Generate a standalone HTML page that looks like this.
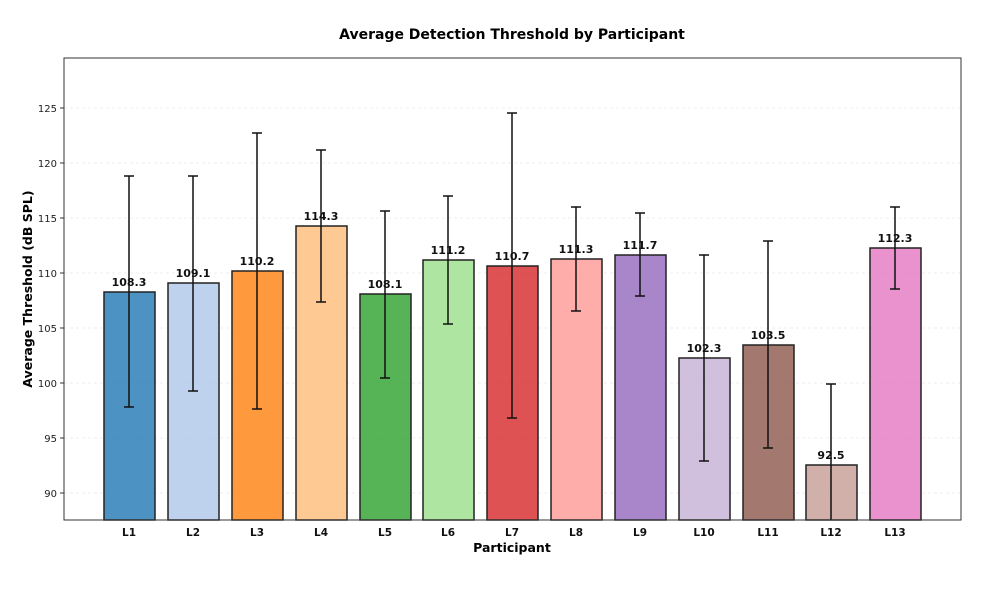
<!DOCTYPE html>
<html><head><meta charset="utf-8"><style>body{margin:0;background:#fff}svg{display:block}text{font-family:"DejaVu Sans","Liberation Sans",sans-serif}</style></head>
<body>
<svg width="1000" height="593" viewBox="0 0 1000 593" xmlns="http://www.w3.org/2000/svg">
<rect width="1000" height="593" fill="#fff"/>
<text x="512" y="39" text-anchor="middle" font-size="14" font-weight="bold">Average Detection Threshold by Participant</text>
<g stroke="#ddd" stroke-dasharray="3,3" stroke-width="0.6">
<line x1="64" x2="961" y1="493" y2="493"/><line x1="64" x2="961" y1="438" y2="438"/><line x1="64" x2="961" y1="383" y2="383"/><line x1="64" x2="961" y1="328" y2="328"/><line x1="64" x2="961" y1="273" y2="273"/><line x1="64" x2="961" y1="218" y2="218"/><line x1="64" x2="961" y1="163" y2="163"/><line x1="64" x2="961" y1="108" y2="108"/>
</g>
<g font-size="10" text-anchor="end" fill="#222">
<text x="57" y="497">90</text><text x="57" y="442">95</text><text x="57" y="387">100</text><text x="57" y="332">105</text><text x="57" y="277">110</text><text x="57" y="222">115</text><text x="57" y="167">120</text><text x="57" y="112">125</text>
</g>
<g stroke="#333" stroke-width="1"><line x1="60" x2="64" y1="493" y2="493"/><line x1="60" x2="64" y1="438" y2="438"/><line x1="60" x2="64" y1="383" y2="383"/><line x1="60" x2="64" y1="328" y2="328"/><line x1="60" x2="64" y1="273" y2="273"/><line x1="60" x2="64" y1="218" y2="218"/><line x1="60" x2="64" y1="163" y2="163"/><line x1="60" x2="64" y1="108" y2="108"/></g>
<g stroke="#222" stroke-width="1.5" fill-opacity="0.8">
<rect x="104" y="292" width="51" height="228" fill="#1f77b4"/>
<rect x="168" y="283" width="51" height="237" fill="#aec7e8"/>
<rect x="232" y="271" width="51" height="249" fill="#ff7f0e"/>
<rect x="296" y="226" width="51" height="294" fill="#ffbb78"/>
<rect x="360" y="294" width="51" height="226" fill="#2ca02c"/>
<rect x="423" y="260" width="51" height="260" fill="#98df8a"/>
<rect x="487" y="266" width="51" height="254" fill="#d62728"/>
<rect x="551" y="259" width="51" height="261" fill="#ff9896"/>
<rect x="615" y="255" width="51" height="265" fill="#9467bd"/>
<rect x="679" y="358" width="51" height="162" fill="#c5b0d5"/>
<rect x="743" y="345" width="51" height="175" fill="#8c564b"/>
<rect x="806" y="465" width="51" height="55" fill="#c49c94"/>
<rect x="870" y="248" width="51" height="272" fill="#e377c2"/>
</g>
<g stroke="#111" stroke-width="1.5">
<path d="M129 176V407M124 176H134M124 407H134"/>
<path d="M193 176V391M188 176H198M188 391H198"/>
<path d="M257 133V409M252 133H262M252 409H262"/>
<path d="M321 150V302M316 150H326M316 302H326"/>
<path d="M385 211V378M380 211H390M380 378H390"/>
<path d="M448 196V324M443 196H453M443 324H453"/>
<path d="M512 113V418M507 113H517M507 418H517"/>
<path d="M576 207V311M571 207H581M571 311H581"/>
<path d="M640 213V296M635 213H645M635 296H645"/>
<path d="M704 255V461M699 255H709M699 461H709"/>
<path d="M768 241V448M763 241H773M763 448H773"/>
<path d="M831 384V520M826 384H836"/>
<path d="M895 207V289M890 207H900M890 289H900"/>
</g>
<g font-size="11" font-weight="bold" text-anchor="middle" fill="#111">
<text x="129" y="286">108.3</text><text x="193" y="277">109.1</text><text x="257" y="265">110.2</text><text x="321" y="220">114.3</text><text x="385" y="288">108.1</text><text x="448" y="254">111.2</text><text x="512" y="260">110.7</text><text x="576" y="253">111.3</text><text x="640" y="249">111.7</text><text x="704" y="352">102.3</text><text x="768" y="339">103.5</text><text x="831" y="459">92.5</text><text x="895" y="242">112.3</text>
</g>
<rect x="64" y="58" width="897" height="462" fill="none" stroke="#333" stroke-width="1"/>
<g font-size="10.5" font-weight="bold" text-anchor="middle" fill="#111">
<text x="129" y="536">L1</text><text x="193" y="536">L2</text><text x="257" y="536">L3</text><text x="321" y="536">L4</text><text x="385" y="536">L5</text><text x="448" y="536">L6</text><text x="512" y="536">L7</text><text x="576" y="536">L8</text><text x="640" y="536">L9</text><text x="704" y="536">L10</text><text x="768" y="536">L11</text><text x="831" y="536">L12</text><text x="895" y="536">L13</text>
</g>
<text x="512" y="552" text-anchor="middle" font-size="12.5" font-weight="bold">Participant</text>
<text transform="translate(32,289) rotate(-90)" text-anchor="middle" font-size="12.5" font-weight="bold">Average Threshold (dB SPL)</text>
</svg>
</body></html>
